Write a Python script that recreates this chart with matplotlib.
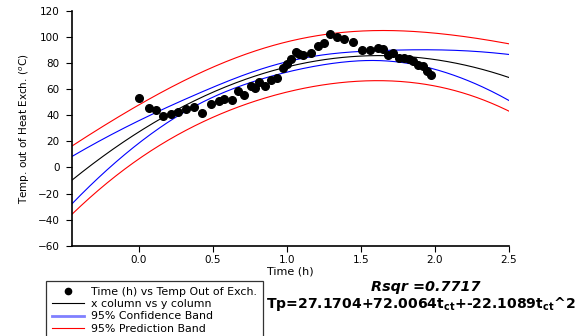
import numpy as np
import matplotlib
matplotlib.use("Agg")
import matplotlib.pyplot as plt
from matplotlib.lines import Line2D

plt.rcParams['font.family'] = ['DejaVu Sans']

# Data
time_h = [0.00, 0.07, 0.116, 0.166, 0.22, 0.267, 0.318, 0.372, 0.428, 0.49,
          0.54, 0.578, 0.627, 0.672, 0.71, 0.755, 0.782, 0.813, 0.856, 0.896,
          0.932, 0.977, 1.004, 1.03, 1.06, 1.084, 1.11, 1.163, 1.212, 1.25,
          1.29, 1.337, 1.386, 1.447, 1.507, 1.563, 1.617, 1.649, 1.68, 1.716,
          1.756, 1.79, 1.823, 1.855, 1.884, 1.917, 1.944, 1.974]
temp_out = [53.1, 45.9, 43.8, 39.2, 40.8, 42.8, 44.8, 46.4, 41.8, 48.4,
            51.0, 52.5, 52.0, 58.7, 55.6, 62.3, 60.7, 65.3, 62.7, 66.9,
            68.4, 76.3, 79.6, 83.0, 88.5, 86.8, 86.0, 87.6, 93.2, 95.2,
            102.1, 100.3, 98.3, 96.0, 90.1, 90.3, 91.9, 90.9, 86.0, 87.8,
            83.7, 84.2, 83.0, 81.4, 78.8, 77.8, 73.8, 70.7]
coef = [27.1704, 72.0064, -22.1089]   # b0, b1, b2
rsqr = 0.7717

x_ticks = [0.0, 0.5, 1.0, 1.5, 2.0, 2.5]
y_ticks = [-60, -40, -20, 0, 20, 40, 60, 80, 100, 120]

t = np.asarray(time_h)
y = np.asarray(temp_out)
X = np.column_stack([np.ones_like(t), t, t ** 2])
b = np.asarray(coef)
resid = y - X @ b
n = len(t)
s = np.sqrt(np.sum(resid ** 2) / (n - 3))
tcrit = 2.01
XtXi = np.linalg.inv(X.T @ X)

tg = np.linspace(-0.45, 2.5, 300)
Xg = np.column_stack([np.ones_like(tg), tg, tg ** 2])
fit = Xg @ b
lev = np.einsum('ij,jk,ik->i', Xg, XtXi, Xg)
ci = tcrit * s * np.sqrt(lev)
pi = tcrit * s * np.sqrt(1 + lev)

fig = plt.figure(figsize=(5.82, 3.36), dpi=100)
ax = fig.add_axes([72 / 582, 1 - 245.7 / 336, (509 - 72) / 582, (245.7 - 11) / 336])

ax.plot(tg, fit, color='black', lw=0.8)
ax.plot(tg, fit + ci, color='blue', lw=0.8)
ax.plot(tg, fit - ci, color='blue', lw=0.8)
ax.plot(tg, fit + pi, color='red', lw=0.8)
ax.plot(tg, fit - pi, color='red', lw=0.8)
ax.plot(t, y, 'o', color='black', ms=5.5, mec='black')

ax.set_xlim(-0.45, 2.5)
ax.set_ylim(-60, 120)
ax.set_xticks(x_ticks)
ax.set_yticks(y_ticks)
ax.set_xticklabels([f"{v:.1f}" for v in x_ticks])
ax.spines['top'].set_visible(False)
ax.spines['right'].set_visible(False)
ax.spines['left'].set_linewidth(1.2)
ax.spines['bottom'].set_linewidth(1.2)
ax.tick_params(direction='out', length=4, width=0.8, labelsize=7.5)
ax.tick_params(axis='x', pad=3)
ax.tick_params(axis='y', pad=5)
ax.set_xlabel('Time (h)', fontsize=8, labelpad=1)
ax.set_ylabel(r'Temp. out of Heat Exch. ($^o$C)', fontsize=7.5, labelpad=4)

handles = [
    Line2D([], [], marker='o', ls='none', color='black', ms=4.5),
    Line2D([], [], color='black', lw=0.8),
    Line2D([], [], color='#8080ff', lw=2),
    Line2D([], [], color='red', lw=0.8),
]
labels = ['Time (h) vs Temp Out of Exch.', 'x column vs y column',
          '95% Confidence Band', '95% Prediction Band']
leg = fig.legend(handles, labels, loc='upper left',
                 bbox_to_anchor=(45.5 / 582, 1 - 281 / 336),
                 fontsize=7.9, frameon=True, fancybox=False, edgecolor='black',
                 borderpad=0.55, labelspacing=0.2, handlelength=3.0,
                 handletextpad=0.6, borderaxespad=0)
leg.get_frame().set_linewidth(0.9)

fig.text(426 / 582, 1 - 286.5 / 336, f'Rsqr ={rsqr}', fontsize=10.4,
         fontweight='bold', style='italic', ha='center', va='center')
fig.text(420.5 / 582, 1 - 304 / 336,
         r'Tp=27.1704+72.0064t$_{\mathbf{ct}}$+-22.1089t$_{\mathbf{ct}}$^2',
         fontsize=10.1, fontweight='bold', ha='center', va='center')

fig.savefig('out.png', dpi=100)
